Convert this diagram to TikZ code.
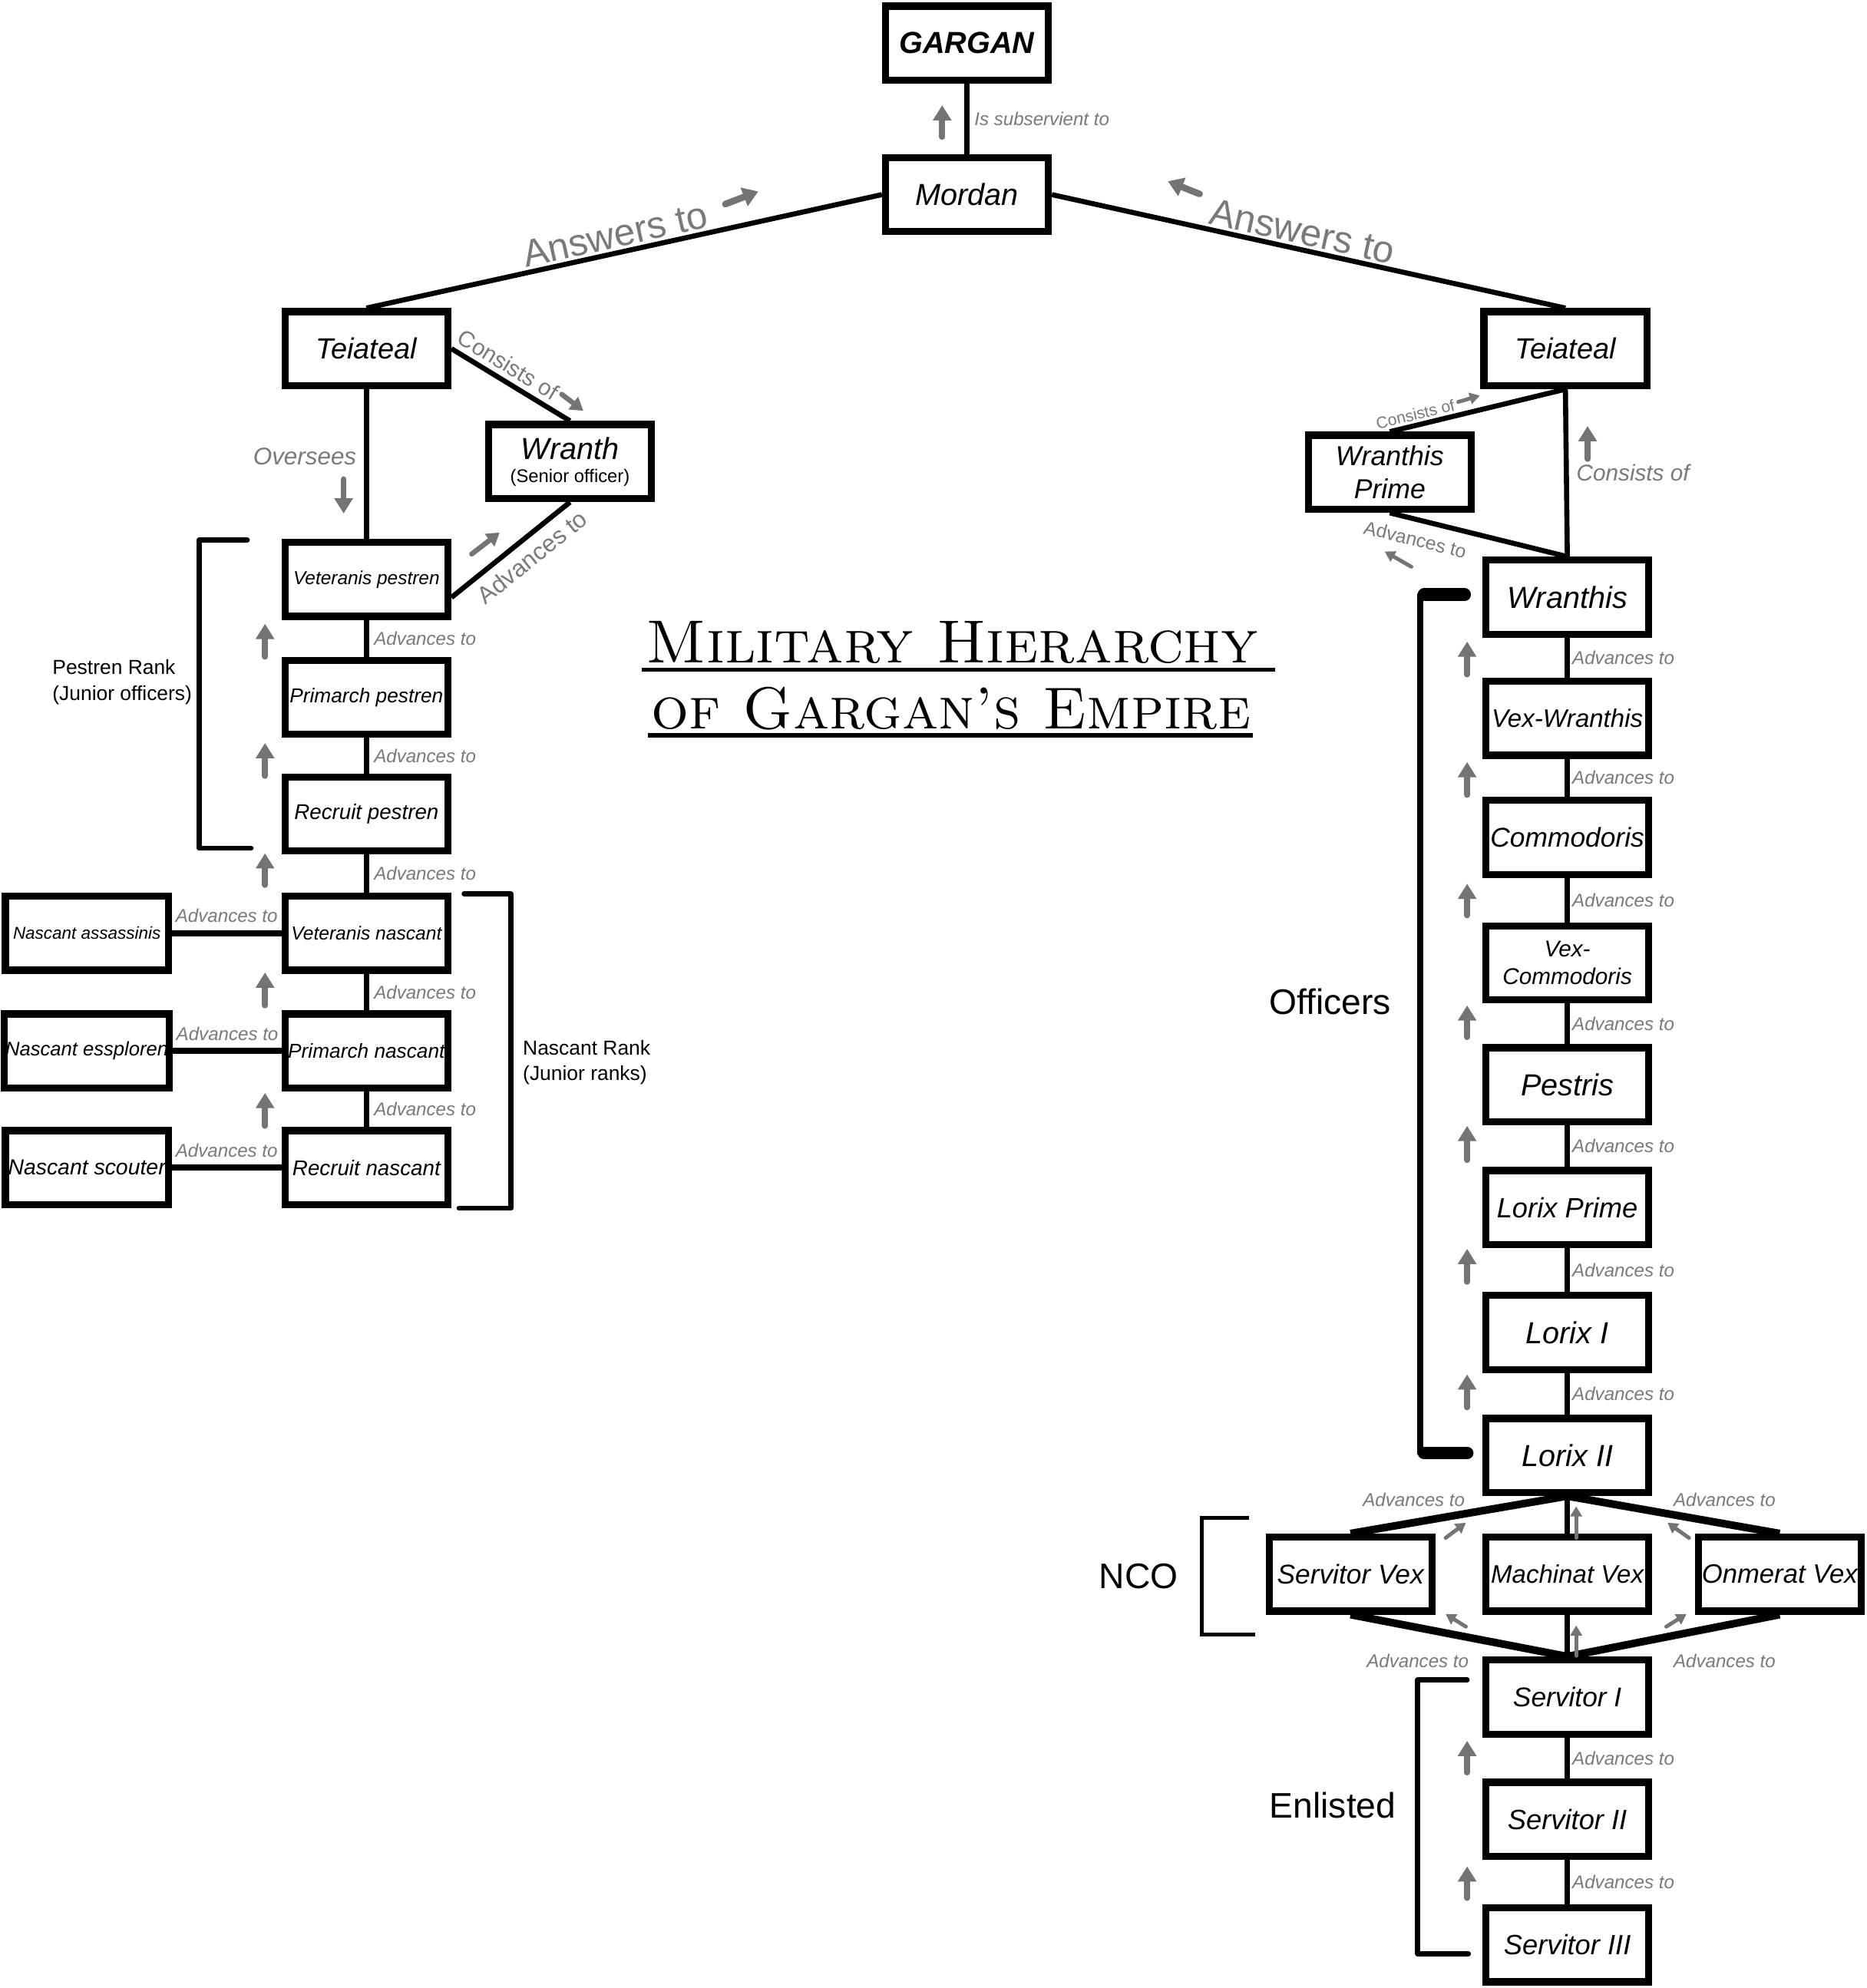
\documentclass[tikz,border=0pt]{standalone}
\usepackage{fontspec}
\setsansfont{Liberation Sans}
\usetikzlibrary{calc, arrows.meta}
\definecolor{lblgray}{RGB}{122,122,122}
\definecolor{arrowgray}{RGB}{116,116,116}

\begin{document}
\begin{tikzpicture}[x=0.5pt, y=-0.5pt, font=\sffamily,
  rank/.style={draw, line width=2.8pt, fill=white, minimum width=64.2pt,
    minimum height=29.2pt, inner sep=0.5pt, align=center,
    font=\sffamily\itshape\fontsize{#1}{13}\selectfont},
  rank/.default=11.5,
  small rank/.style={rank=#1},
  link/.style={line width=2pt},
  side link/.style={line width=2.4pt},
  nco link/.style={line width=3pt},
  lbl/.style={text=lblgray, inner sep=1pt, font=\sffamily\itshape\fontsize{7.3}{8.5}\selectfont},
  big lbl/.style={text=lblgray, inner sep=1pt, font=\sffamily\itshape\fontsize{#1}{#1}\selectfont},
  rot lbl/.style={text=lblgray, inner sep=1pt, font=\sffamily\fontsize{#1}{#1}\selectfont},
  group lbl/.style={inner sep=0pt, align=left, font=\sffamily\fontsize{#1}{10}\selectfont},
  title/.style={inner sep=0pt, anchor=base, font=\rmfamily\scshape\fontsize{#1}{28}\selectfont},
  up arrow/.style={draw=arrowgray, line width=2.3pt, line cap=round, -{Triangle[width=7pt,length=6pt]}},
  big arrow/.style={draw=arrowgray, line width=2.6pt, line cap=round, -{Triangle[width=7.5pt,length=6pt]}},
  mid arrow/.style={draw=arrowgray, line width=2pt, line cap=round, -{Triangle[width=6pt,length=5pt]}},
  tiny arrow/.style={draw=arrowgray, line width=1.5pt, line cap=round, -{Triangle[width=4.5pt,length=4pt]}},
  bracket/.style={line width=2pt, line cap=round, line join=round}]

\fill[white] (0,0) rectangle (1472,1568);
\useasboundingbox (0,0) rectangle (1472,1568);

% top of the empire
\node[rank=12, font=\sffamily\bfseries\itshape\fontsize{12}{14}\selectfont] (gargan) at (762.5,34) {GARGAN};
\node[rank=12] (mordan) at (762.5,153.5) {Mordan};
\node[rank] (teiL) at (289,275) {Teiateal};
\node[rank] (teiR) at (1234.5,275) {Teiateal};
\node[rank=12] (wranth) at (449.5,364) {Wranth\\[-4pt]{\upshape\fontsize{7.2}{8}\selectfont (Senior officer)}};
\node[rank=10.8] (wPrime) at (1096,372.5) {Wranthis\\Prime};

% left branch
\node[small rank=7.4] (vetP) at (289,457) {Veteranis pestren};
\node[small rank=7.95] (priP) at (289,550) {Primarch pestren};
\node[small rank=8.4] (recP) at (289,642) {Recruit pestren};
\node[small rank=7.45] (vetN) at (289,736) {Veteranis nascant};
\node[small rank=7.95] (priN) at (289,829) {Primarch nascant};
\node[small rank=8.4] (recN) at (289,921) {Recruit nascant};
\node[small rank=6.8] (assN) at (68.5,736) {Nascant assassinis};
\node[small rank=7.75] (essN) at (68.5,829) {Nascant essploren};
\node[small rank=8.6] (scoN) at (68.5,921) {Nascant scouter};

% right branch
\node[rank=12] (wranthis) at (1236,471) {Wranthis};
\node[rank=10] (vexW) at (1236,566.5) {Vex-Wranthis};
\node[rank=10.7] (commo) at (1236,660.5) {Commodoris};
\node[rank=9, font=\sffamily\itshape\fontsize{9}{11}\selectfont] (vexC) at (1236,759.5) {Vex-\\Commodoris};
\node[rank=12] (pestris) at (1236,855.5) {Pestris};
\node[rank=11] (lorixP) at (1236,952.5) {Lorix Prime};
\node[rank=12] (lorix1) at (1236,1051) {Lorix I};
\node[rank=12] (lorix2) at (1236,1148) {Lorix II};
\node[rank=10.7] (servVex) at (1065,1241.5) {Servitor Vex};
\node[rank=10] (machVex) at (1236,1241.5) {Machinat Vex};
\node[rank=10.5] (onmVex) at (1403.5,1241.5) {Onmerat Vex};
\node[rank=10.7] (serv1) at (1236,1338.5) {Servitor I};
\node[rank=11] (serv2) at (1236,1435) {Servitor II};
\node[rank=11] (serv3) at (1236,1534) {Servitor III};

% title
\node[title=24] (title1) at (751,523) {Military Hierarchy};
\node[title=23.35] (title2) at (750,575) {of Gargan's Empire};
\draw[line width=1.6pt] ($(title1.base west)+(-3,5)$) -- ($(title1.base east)+(13,5)$);
\draw[line width=1.6pt] ($(title2.base west)+(-2,5)$) -- ($(title2.base east)+(1,5)$);

% links at the top
\draw[link] (mordan.north) -- (gargan.south) node[lbl, midway, right=1pt] {Is subservient to};
\draw[up arrow] (743,108) -- (743,83);
\draw[link] (teiL.north) -- (mordan.west)
  node[rot lbl=15, pos=0.49, sloped, above] {Answers to};
\draw[big arrow] (572,161) -- (598,151);
\draw[link] (mordan.east) -- (teiR.north)
  node[rot lbl=15, pos=0.48, sloped, above] {Answers to};
\draw[big arrow] (946,153) -- (921,143);

% left branch links
\draw[link] (teiL.east) -- (wranth.north)
  node[rot lbl=9, pos=0.41, sloped, above=1pt] {Consists of};
\draw[mid arrow] (443,311) -- (460,324);
\draw[link] (vetP.-12) -- (wranth.south)
  node[rot lbl=9.5, pos=0.58, sloped, below=2pt] {Advances to};
\draw[mid arrow] (372,437) -- (394,420);
\draw[link] (teiL.south) -- (vetP.north) node[big lbl=9.5, pos=0.45, left=2pt] {Oversees};
\draw[up arrow] (271,378) -- (271,405);

\draw[link] (vetP.south) -- (priP.north) node[lbl, midway, right=1pt] {Advances to};
\draw[link] (priP.south) -- (recP.north) node[lbl, midway, right=1pt] {Advances to};
\draw[link] (recP.south) -- (vetN.north) node[lbl, midway, right=1pt] {Advances to};
\draw[link] (vetN.south) -- (priN.north) node[lbl, midway, right=1pt] {Advances to};
\draw[link] (priN.south) -- (recN.north) node[lbl, midway, right=1pt] {Advances to};
\draw[side link] (assN.east) -- (vetN.west) node[lbl, midway, above=2pt] {Advances to};
\draw[side link] (essN.east) -- (priN.west) node[lbl, midway, above=2pt] {Advances to};
\draw[side link] (scoN.east) -- (recN.west) node[lbl, midway, above=2pt] {Advances to};
\draw[up arrow] (209,518) -- (209,492);
\draw[up arrow] (209,612) -- (209,586);
\draw[up arrow] (209,698) -- (209,673);
\draw[up arrow] (209,793) -- (209,767);
\draw[up arrow] (209,888) -- (209,862);

% right branch links
\draw[link] (wPrime.north) -- (teiR.south)
  node[rot lbl=6.4, pos=0.16, sloped, above] {Consists of};
\draw[tiny arrow] (1150,317) -- (1167,312);
\draw[link] (wPrime.south) -- (wranthis.north)
  node[rot lbl=7.5, pos=0.17, sloped, below=3pt] {Advances to};
\draw[tiny arrow] (1113,447) -- (1092,435);
\draw[link] (teiR.south) -- (wranthis.north) node[big lbl=9, midway, right=2pt] {Consists of};
\draw[up arrow] (1252,362) -- (1252,336);

\draw[link] (wranthis.south) -- (vexW.north) node[lbl, midway, right=0pt] {Advances to};
\draw[link] (vexW.south) -- (commo.north) node[lbl, midway, right=0pt] {Advances to};
\draw[link] (commo.south) -- (vexC.north) node[lbl, midway, right=0pt] {Advances to};
\draw[link] (vexC.south) -- (pestris.north) node[lbl, midway, right=0pt] {Advances to};
\draw[link] (pestris.south) -- (lorixP.north) node[lbl, midway, right=0pt] {Advances to};
\draw[link] (lorixP.south) -- (lorix1.north) node[lbl, midway, right=0pt] {Advances to};
\draw[link] (lorix1.south) -- (lorix2.north) node[lbl, midway, right=0pt] {Advances to};
\draw[up arrow] (1157,532) -- (1157,506);
\draw[up arrow] (1157,627) -- (1157,601);
\draw[up arrow] (1157,722) -- (1157,697);
\draw[up arrow] (1157,818) -- (1157,793);
\draw[up arrow] (1157,915) -- (1157,888);
\draw[up arrow] (1157,1011) -- (1157,985);
\draw[up arrow] (1157,1110) -- (1157,1084);

% NCO crossing
\draw[nco link] (lorix2.south) -- (servVex.north);
\draw[nco link] (lorix2.south) -- (onmVex.north);
\draw[link] (lorix2.south) -- (machVex.north);
\draw[nco link] (servVex.south) -- (serv1.north);
\draw[nco link] (onmVex.south) -- (serv1.north);
\draw[link] (machVex.south) -- (serv1.north);
\node[lbl] (ncoUL) at (1115,1183) {Advances to};
\node[lbl] (ncoUR) at (1360,1183) {Advances to};
\node[lbl] (ncoLL) at (1118,1310) {Advances to};
\node[lbl] (ncoLR) at (1360,1310) {Advances to};
\draw[tiny arrow] (1140,1213) -- (1156,1201);
\draw[tiny arrow] (1243,1213) -- (1243,1188);
\draw[tiny arrow] (1332,1213) -- (1315,1201);
\draw[tiny arrow] (1156,1283) -- (1140,1273);
\draw[tiny arrow] (1243,1306) -- (1243,1282);
\draw[tiny arrow] (1314,1283) -- (1330,1273);

\draw[link] (serv1.south) -- (serv2.north) node[lbl, midway, right=0pt] {Advances to};
\draw[link] (serv2.south) -- (serv3.north) node[lbl, midway, right=0pt] {Advances to};
\draw[up arrow] (1157,1398) -- (1157,1373);
\draw[up arrow] (1157,1497) -- (1157,1472);

% brackets and group names
\draw[bracket] (195,426) -- (157,426) -- (157,669) -- (198,669);
\node[group lbl=8, anchor=west] (pestrenRank) at (41,538) {Pestren Rank\\(Junior officers)};
\draw[bracket] (366,705) -- (403,705) -- (403,953) -- (362,953);
\node[group lbl=8, anchor=west] (nascantRank) at (412,838) {Nascant Rank\\(Junior ranks)};
\draw[line width=2.4pt] (1120,468) -- (1120,1147);
\draw[line width=5pt, line cap=round] (1123,469) -- (1155,469);
\draw[line width=5pt, line cap=round] (1123,1146) -- (1157,1146);
\node[group lbl=14] (officers) at (1049,790) {Officers};
\draw[line width=1.5pt] (985,1197) -- (948,1197) -- (948,1289) -- (990,1289);
\node[group lbl=14] (nco) at (898,1243) {NCO};
\draw[bracket] (1157,1325) -- (1118,1325) -- (1118,1541) -- (1158,1541);
\node[group lbl=14] (enlisted) at (1051,1424) {Enlisted};
\end{tikzpicture}
\end{document}
